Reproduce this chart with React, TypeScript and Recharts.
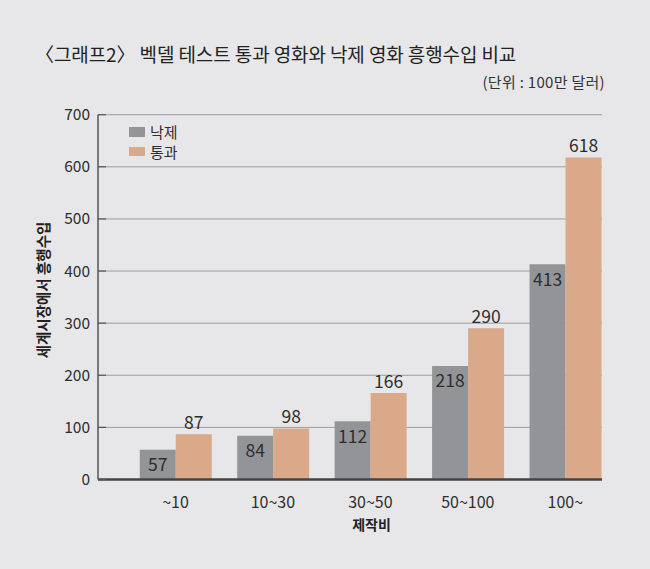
import React from "react";
import { BarChart, Bar, XAxis, YAxis, CartesianGrid, Legend, LabelList } from "recharts";

const categories = ["~10", "10~30", "30~50", "50~100", "100~"];
const failValues = [57, 84, 112, 218, 413];
const passValues = [87, 98, 166, 290, 618];
const yTicks = [0, 100, 200, 300, 400, 500, 600, 700];

const FAIL_NAME = "낙제";
const PASS_NAME = "통과";

const data = categories.map((c, i) => ({ cat: c, fail: failValues[i], pass: passValues[i] }));

const FONT = "'Noto Sans CJK KR', 'Noto Sans', sans-serif";
const BG = "#e7e7e9";
const GRAY = "#939498";
const ORANGE = "#d9a98a";
const TEXT = "#2e2e2e";

const YTick = (props: any) => {
  const { x, y, payload } = props;
  return (
    <g>
      <line x1={x + 8} x2={x + 16} y1={y} y2={y} stroke="#555" strokeWidth={1.2} />
      <text x={x} y={y} dy={5.5} textAnchor="end" fill={TEXT} fontSize={15.5} fontFamily={FONT}>
        {payload.value}
      </text>
    </g>
  );
};

const LegendContent = (props: any) => {
  const { payload } = props;
  return (
    <div style={{ fontFamily: FONT }}>
      {(payload || []).map((p: any) => (
        <div key={p.value} style={{ display: "flex", alignItems: "center", height: 19.5 }}>
          <span style={{ display: "inline-block", width: 16, height: 9.5, background: p.color, marginRight: 5 }} />
          <span style={{ fontSize: 15, color: TEXT, lineHeight: "19px" }}>{p.value}</span>
        </div>
      ))}
    </div>
  );
};

export default function App() {
  return (
    <div style={{ position: "absolute", left: 0, top: 0, width: 650, height: 569, background: BG, overflow: "hidden" }}>
      <div style={{ position: "absolute", left: 35, top: 40, fontFamily: FONT, fontSize: 19, letterSpacing: -0.1, color: "#222", whiteSpace: "nowrap" }}>
        〈그래프2〉 벡델 테스트 통과 영화와 낙제 영화 흥행수입 비교
      </div>
      <div style={{ position: "absolute", right: 45, top: 71, fontFamily: FONT, fontSize: 15, letterSpacing: 0.3, color: "#333", whiteSpace: "nowrap" }}>
        (단위 : 100만 달러)
      </div>
      <div style={{ position: "absolute", left: 0, top: 0 }}>
        <BarChart
          width={650}
          height={569}
          data={data}
          margin={{ top: 114.7, right: 48, bottom: 59.5, left: 0 }}
          barGap={0}
          barSize={36}
        >
          <CartesianGrid vertical={false} stroke="#9c9c9c" strokeWidth={1} />
          <XAxis
            dataKey="cat"
            height={30}
            padding={{ left: 28.75, right: -12 }}
            tickLine={false}
            tickSize={0}
            tickMargin={17}
            axisLine={{ stroke: "#444", strokeWidth: 2.5 }}
            tick={{ fill: TEXT, fontSize: 16, fontFamily: FONT }}
            interval={0}
          />
          <YAxis
            width={98}
            domain={[0, 700]}
            ticks={yTicks}
            tickLine={false}
            tickSize={0}
            tickMargin={8}
            axisLine={{ stroke: "#555", strokeWidth: 1.5 }}
            tick={<YTick />}
            interval={0}
          />
          <Legend
            layout="vertical"
            verticalAlign="middle"
            align="center"
            content={<LegendContent />}
            wrapperStyle={{ position: "absolute", left: 129, top: 122, width: 80, height: 40 }}
          />
          <Bar dataKey="fail" name={FAIL_NAME} fill={GRAY} isAnimationActive={false}>
            <LabelList dataKey="fail" position="insideTop" offset={9} fill={TEXT} fontSize={17.5} fontFamily={FONT} />
          </Bar>
          <Bar dataKey="pass" name={PASS_NAME} fill={ORANGE} isAnimationActive={false}>
            <LabelList dataKey="pass" position="top" offset={5} fill={TEXT} fontSize={17.5} fontFamily={FONT} />
          </Bar>
        </BarChart>
      </div>
      <div
        style={{
          position: "absolute",
          left: 41.5,
          top: 290,
          transform: "translate(-50%, -50%) rotate(-90deg)",
          fontFamily: FONT,
          fontSize: 14.5,
          fontWeight: 700,
          letterSpacing: 0,
          color: "#222",
          whiteSpace: "nowrap",
        }}
      >
        세계시장에서 흥행수입
      </div>
      <div
        style={{
          position: "absolute",
          left: 371.5,
          top: 524,
          transform: "translate(-50%, -50%)",
          fontFamily: FONT,
          fontSize: 14,
          fontWeight: 700,
          color: "#222",
          whiteSpace: "nowrap",
        }}
      >
        제작비
      </div>
    </div>
  );
}
